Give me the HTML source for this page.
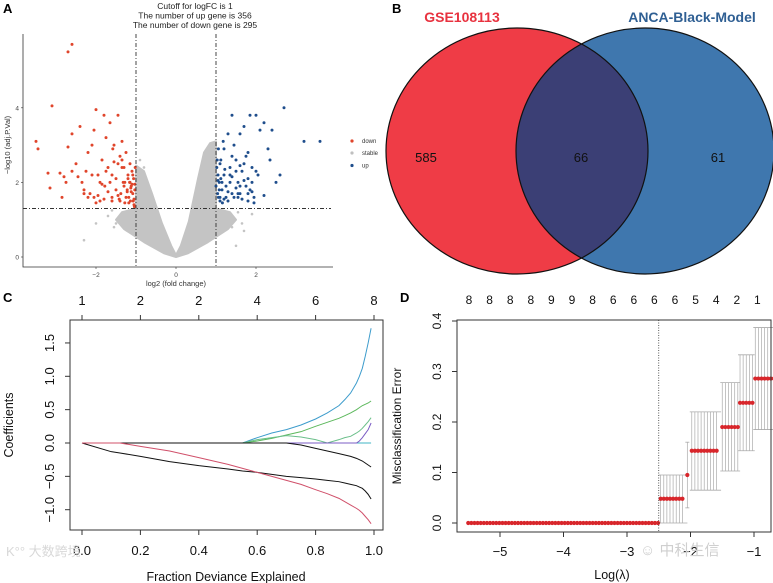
<!DOCTYPE html>
<html><head><meta charset="utf-8"><style>
html,body{margin:0;padding:0;background:#fff;}
svg{display:block;font-family:"Liberation Sans","Noto Sans CJK SC",sans-serif;}
</style></head><body>
<svg id="fig" width="773" height="583" viewBox="0 0 773 583" xmlns="http://www.w3.org/2000/svg">
<rect width="773" height="583" fill="#fff"/>
<text x="3" y="13" font-size="13" font-weight="bold">A</text>
<text x="392" y="13" font-size="13" font-weight="bold">B</text>
<text x="3" y="302" font-size="13" font-weight="bold">C</text>
<text x="400" y="302" font-size="13" font-weight="bold">D</text>

<g font-size="8.5" fill="#222" text-anchor="middle">
<text x="195" y="9">Cutoff for logFC is 1</text>
<text x="195" y="18.5">The number of up gene is 356</text>
<text x="195" y="28">The number of down gene is 295</text>
</g>
<g id="volcano"></g>
<g font-size="6" fill="#333">
<circle cx="352" cy="141" r="1.6" fill="#e0452b"/><text x="362" y="143">down</text>
<circle cx="352" cy="153" r="1.6" fill="#bfbfbf"/><text x="362" y="155">stable</text>
<circle cx="352" cy="165.5" r="1.6" fill="#1f4e8c"/><text x="362" y="167.5">up</text>
</g>
<text x="176" y="286" font-size="7.5" text-anchor="middle" fill="#333">log2 (fold change)</text>
<text transform="translate(10,145) rotate(-90)" font-size="7.5" text-anchor="middle" fill="#333">−log10 (adj.P.Val)</text>

<g>
<ellipse cx="517" cy="151" rx="131" ry="123" fill="#ef3c46"/>
<ellipse cx="645" cy="151" rx="129" ry="123" fill="#3f77ae"/>
<clipPath id="clipRed"><ellipse cx="517" cy="151" rx="131" ry="123"/></clipPath>
<ellipse cx="645" cy="151" rx="129" ry="123" fill="#3b3f75" clip-path="url(#clipRed)"/>
<ellipse cx="517" cy="151" rx="131" ry="123" fill="none" stroke="#111" stroke-width="1.2"/>
<ellipse cx="645" cy="151" rx="129" ry="123" fill="none" stroke="#111" stroke-width="1.2"/>
<text x="462" y="22" font-size="14" font-weight="bold" fill="#e8323f" text-anchor="middle">GSE108113</text>
<text x="692" y="22" font-size="14" font-weight="bold" fill="#2f5f93" text-anchor="middle">ANCA-Black-Model</text>
<text x="426" y="162" font-size="13" text-anchor="middle" fill="#111">585</text>
<text x="581" y="162" font-size="13" text-anchor="middle" fill="#111">66</text>
<text x="718" y="162" font-size="13" text-anchor="middle" fill="#111">61</text>
</g>

<g id="coef"></g>
<text transform="translate(13,425) rotate(-90)" font-size="12.5" text-anchor="middle" fill="#111">Coefficients</text>
<text x="226" y="581" font-size="12.5" text-anchor="middle" fill="#111">Fraction Deviance Explained</text>
<text x="6" y="556" font-size="13" fill="#d8d8d8">K°° 大数跨境</text>

<g id="cv"></g>
<text transform="translate(401,426) rotate(-90)" font-size="12" text-anchor="middle" fill="#111">Misclassification Error</text>
<text x="612" y="579" font-size="12.5" text-anchor="middle" fill="#111">Log(λ)</text>
<text x="640" y="555" font-size="15" fill="#cfcfcf">☺ 中科生信</text>
</svg>
<script>
const NS="http://www.w3.org/2000/svg";
function mk(parent,tag,attrs){const e=document.createElementNS(NS,tag);for(const k in attrs)e.setAttribute(k,attrs[k]);parent.appendChild(e);return e;}

const volXTicks=[-2,0,2];
const volYTicks=[0,2,4];
const fcCutoff=1;
const pCutoff=1.3;
const stableOutline=[[-1,2.45],[-0.8,2.3],[-0.6,1.7],[-0.35,0.9],[-0.12,0.3],[0,0.05],[0.12,0.3],[0.32,0.95],[0.45,1.6],[0.55,2.1],[0.7,2.8],[0.85,3.05],[1,3.1],[1,1.3],[1.35,1.2],[1.5,1.0],[1.3,0.75],[0.8,0.4],[0.3,0.1],[0,0],[-0.3,0.1],[-0.8,0.4],[-1.3,0.75],[-1.5,1.0],[-1.35,1.2],[-1,1.3]];
const stableX=[-1.4,-1.2,-1.5,-0.9,-2.3,-1.3,-1.1,1.2,1.4,1.9,1.5,1.1,-1.6,-2.0,0.9,1.3,-0.8,0.8,-1.0,1.7,-1.7,1.65,-1.55,1.55];
const stableY=[1.1,1.2,0.9,2.6,0.45,0.8,1.0,1.0,0.8,1.15,0.3,1.2,1.25,0.9,2.9,1.1,2.4,2.3,0.6,0.7,1.1,0.9,0.8,1.2];
const downX=[-2.6,-2.7,-3.1,-3.5,-3.45,-3.2,-3.15,-2.85,-2.9,-2.75,-2.7,-2.6,-2.5,-2.4,-2.35,-2.3,-2.25,-2.2,-2.15,-2.1,-2.05,-2.0,-1.95,-1.9,-1.85,-1.8,-1.78,-1.75,-1.7,-1.65,-1.6,-1.58,-1.55,-1.5,-1.45,-1.42,-1.4,-1.38,-1.35,-1.32,-1.3,-1.28,-1.25,-1.22,-1.2,-1.18,-1.16,-1.14,-1.12,-1.1,-1.08,-1.06,-1.05,-1.03,-1.02,-2.2,-2.0,-1.9,-1.7,-1.6,-1.5,-1.45,-1.35,-1.25,-1.15,-1.1,-1.05,-2.45,-2.3,-2.1,-1.8,-1.65,-1.4,-1.3,-1.2,-1.12,-1.08,-1.04,-2.6,-2.8,-1.95,-1.55,-1.75,-1.28,-1.18,-1.13,-1.07,-1.03,-2.05,-1.85,-1.6,-1.45,-1.35,-1.22,-1.15];
const downY=[5.7,5.5,4.05,3.1,2.9,2.25,1.85,1.6,2.25,2.0,2.95,3.3,2.5,3.5,2.0,1.8,2.3,2.8,1.7,3.0,3.4,3.95,2.2,1.5,2.6,3.8,1.9,3.2,2.4,3.6,1.6,2.9,3.0,2.1,3.8,1.55,2.7,1.7,3.1,2.0,2.4,1.45,2.8,1.8,2.2,1.6,2.0,1.5,1.9,2.3,1.7,2.1,1.4,1.8,2.4,1.6,1.45,2.0,1.75,1.5,1.8,2.5,2.6,1.6,2.5,1.95,1.55,2.15,1.7,2.2,1.55,2.0,1.5,1.9,2.1,1.75,2.2,1.35,2.3,2.15,1.65,2.55,2.3,2.0,1.45,1.85,1.5,1.95,1.6,1.95,2.2,1.65,2.4,1.75,2.0];
const upX=[3.2,3.6,2.7,2.4,2.35,2.5,2.6,2.3,2.2,2.1,2.0,1.95,1.9,1.85,1.8,1.75,1.7,1.65,1.6,1.55,1.5,1.45,1.4,1.35,1.3,1.25,1.2,1.18,1.15,1.12,1.1,1.08,1.06,1.04,1.02,1.9,1.8,1.7,1.6,1.5,1.4,1.3,1.2,1.15,1.1,1.05,2.05,1.95,1.85,1.75,1.65,1.55,1.45,1.35,1.25,1.16,1.08,1.03,2.2,2.0,1.8,1.6,1.4,1.22,1.12,1.06,1.0,1.5,1.3,1.7,1.9,1.1,1.2,1.4,1.6,1.8,1.35,1.55,1.05];
const upY=[3.1,3.1,4.0,3.4,2.6,2.0,2.2,2.9,3.6,3.4,3.8,1.45,2.4,3.8,2.8,1.9,3.5,2.3,3.3,1.7,2.6,3.0,3.8,2.0,3.3,1.6,2.2,3.1,1.8,2.6,1.5,2.0,2.9,1.7,2.4,1.75,2.1,2.5,1.9,2.3,2.7,1.5,2.9,2.0,1.6,2.2,2.2,1.6,1.8,2.7,1.55,2.0,1.6,2.4,1.9,1.45,1.8,2.6,1.65,2.3,1.5,2.45,1.7,2.35,2.1,1.6,1.9,1.85,1.75,2.05,2.0,2.5,1.55,2.15,1.7,1.7,2.2,1.6,2.05];

(function(){
  const g=document.getElementById('volcano');
  const X=v=>176+40*v, Y=v=>257-37.3*v;
  const poly=mk(g,'polygon',{points:stableOutline.map(p=>X(p[0])+','+Y(p[1])).join(' '),fill:'#c4c4c4',stroke:'#c4c4c4','stroke-width':2,'stroke-linejoin':'round'});
  
  
  stableX.forEach((x,i)=>{const c=mk(g,'circle',{cx:X(x),cy:Y(stableY[i]),r:1.3,fill:'#c4c4c4'});
    
    });
  downX.forEach((x,i)=>{const c=mk(g,'circle',{cx:X(x),cy:Y(downY[i]),r:1.5,fill:'#e0452b'});
    
    });
  upX.forEach((x,i)=>{const c=mk(g,'circle',{cx:X(x),cy:Y(upY[i]),r:1.5,fill:'#1f4e8c'});
    
    });
  [-fcCutoff,fcCutoff].forEach(v=>{const l=mk(g,'line',{x1:X(v),x2:X(v),y1:34,y2:267,stroke:'#333','stroke-width':0.9,'stroke-dasharray':'4 2 1 2'});
    
    });
  const h=mk(g,'line',{x1:23,x2:331,y1:Y(pCutoff),y2:Y(pCutoff),stroke:'#333','stroke-width':0.9,'stroke-dasharray':'4 2 1 2'});
  
  
  const ax=mk(g,'path',{d:'M23,34 V267 H333',fill:'none',stroke:'#333','stroke-width':0.8});
  
  
  volXTicks.forEach(v=>{mk(g,'line',{x1:X(v),x2:X(v),y1:267,y2:269,stroke:'#333','stroke-width':0.6});
    const t=mk(g,'text',{x:X(v),y:277,'font-size':6.5,'text-anchor':'middle',fill:'#444'});t.textContent=v<0?'−'+(-v):v;
    
    });
  volYTicks.forEach(v=>{mk(g,'line',{x1:21,x2:23,y1:Y(v),y2:Y(v),stroke:'#333','stroke-width':0.6});
    const t=mk(g,'text',{x:19,y:Y(v)+2.5,'font-size':6.5,'text-anchor':'end',fill:'#444'});t.textContent=v;
    
    });
})();

const coefFrac=[0,0.1,0.13,0.2,0.3,0.4,0.5,0.55,0.6,0.65,0.7,0.75,0.8,0.84,0.88,0.9,0.92,0.94,0.95,0.96,0.97,0.98,0.99];
const coefBlue=[0,0,0,0,0,0,0,0,0.08,0.15,0.2,0.27,0.36,0.45,0.56,0.65,0.75,0.9,1.0,1.12,1.3,1.5,1.72];
const coefGreen=[0,0,0,0,0,0,0,0,0.03,0.07,0.12,0.17,0.25,0.31,0.37,0.41,0.45,0.5,0.53,0.56,0.58,0.6,0.63];
const coefTeal=[0,0,0,0,0,0,0,0,0.05,0.08,0.11,0.09,0.05,0.0,0.05,0.08,0.1,0.15,0.18,0.22,0.27,0.32,0.38];
const coefPurple=[0,0,0,0,0,0,0,0,0,0,0,0,0,0,0,0,0,0,0.03,0.08,0.14,0.2,0.3];
const coefBlack1=[0,0,0,0,0,0,0,0,0,0,0,-0.03,-0.08,-0.12,-0.16,-0.18,-0.2,-0.23,-0.25,-0.27,-0.3,-0.33,-0.36];
const coefBlack2=[0,-0.13,-0.15,-0.2,-0.28,-0.34,-0.39,-0.42,-0.44,-0.47,-0.5,-0.52,-0.54,-0.56,-0.58,-0.6,-0.62,-0.64,-0.66,-0.68,-0.72,-0.77,-0.84];
const coefRed=[0,0,0,-0.05,-0.12,-0.22,-0.32,-0.38,-0.44,-0.5,-0.56,-0.62,-0.7,-0.76,-0.83,-0.88,-0.93,-0.98,-1.01,-1.05,-1.1,-1.15,-1.21];
const coefXTicks=[0,0.2,0.4,0.6,0.8,1.0];
const coefYTicks=[-1.0,-0.5,0.0,0.5,1.0,1.5];
const coefTopLabels=['1','2','2','4','6','8'];

(function(){
  const g=document.getElementById('coef');
  const X=v=>82+292*v, Y=v=>443-66.7*v;
  const box=mk(g,'rect',{x:70,y:320,width:313,height:210,fill:'none',stroke:'#333','stroke-width':1});
  
  
  const base=mk(g,'line',{x1:X(0),x2:X(0.99),y1:Y(0),y2:Y(0),stroke:'#41b6c4','stroke-width':1});
  
  
  const series=[[coefBlue,'#3d9ccc','coef-path-blue'],[coefGreen,'#5cb85c','coef-path-green'],[coefTeal,'#6bbf8a','coef-path-teal'],[coefPurple,'#7b5cc4','coef-path-purple'],[coefBlack1,'#111','coef-path-black-1'],[coefBlack2,'#111','coef-path-black-2'],[coefRed,'#d0506a','coef-path-red']];
  series.forEach(s=>{const p=mk(g,'polyline',{points:coefFrac.map((f,i)=>X(f)+','+Y(s[0][i])).join(' '),fill:'none',stroke:s[1],'stroke-width':1});
    
    });
  coefXTicks.forEach(v=>{mk(g,'line',{x1:X(v),x2:X(v),y1:530,y2:535,stroke:'#333'});
    const t=mk(g,'text',{x:X(v),y:555,'font-size':13,'text-anchor':'middle',fill:'#111'});t.textContent=v.toFixed(1);
    
    });
  coefTopLabels.forEach((s,i)=>{const v=coefXTicks[i];mk(g,'line',{x1:X(v),x2:X(v),y1:315,y2:320,stroke:'#333'});
    const t=mk(g,'text',{x:X(v),y:305,'font-size':13,'text-anchor':'middle',fill:'#111'});t.textContent=s;
    
    });
  coefYTicks.forEach(v=>{mk(g,'line',{x1:65,x2:70,y1:Y(v),y2:Y(v),stroke:'#333'});
    const t=mk(g,'text',{transform:`translate(54,${Y(v)}) rotate(-90)`,'font-size':13,'text-anchor':'middle',fill:'#111'});t.textContent=v.toFixed(1).replace('-','−');
    
    });
})();

const segStart=[-5.5,-2.47,-2.05,-1.98,-1.5,-1.22,-0.98];
const segEnd=[-2.5,-2.08,-2.05,-1.55,-1.25,-1.02,-0.67];
const segMean=[0,0.048,0.095,0.143,0.19,0.238,0.286];
const segLo=[0,0,0.03,0.065,0.103,0.143,0.185];
const segHi=[0,0.095,0.16,0.22,0.278,0.333,0.387];
const cvXTicks=[-5,-4,-3,-2,-1];
const cvYTicks=[0,0.1,0.2,0.3,0.4];
const cvTopLabels=['8','8','8','8','9','9','8','6','6','6','6','5','4','2','1'];
const lambdaMin=-2.5;

(function(){
  const g=document.getElementById('cv');
  const X=v=>500+63.5*(v+5), Y=v=>523-505*v;
  const step=0.049;
  segStart.forEach((s,k)=>{
    for(let v=s;v<=segEnd[k]+1e-6;v+=step){
      if(segHi[k]>0){
        const l=mk(g,'line',{x1:X(v),x2:X(v),y1:Y(segLo[k]),y2:Y(segHi[k]),stroke:'#aaa','stroke-width':0.7});
        
        
      }
    }
    if(segHi[k]>0){
      mk(g,'line',{x1:X(s)-2,x2:X(segEnd[k])+2,y1:Y(segLo[k]),y2:Y(segLo[k]),stroke:'#aaa','stroke-width':0.8});
      mk(g,'line',{x1:X(s)-2,x2:X(segEnd[k])+2,y1:Y(segHi[k]),y2:Y(segHi[k]),stroke:'#aaa','stroke-width':0.8});
    }
  });
  segStart.forEach((s,k)=>{
    for(let v=s;v<=segEnd[k]+1e-6;v+=step){
      const c=mk(g,'circle',{cx:X(v),cy:Y(segMean[k]),r:2.1,fill:'#d8262b'});
      
      
    }
  });
  const vl=mk(g,'line',{x1:X(lambdaMin),x2:X(lambdaMin),y1:320,y2:532,stroke:'#333','stroke-width':0.8,'stroke-dasharray':'1 1.5'});
  
  
  const box=mk(g,'rect',{x:457,y:320,width:314,height:212,fill:'none',stroke:'#333','stroke-width':1});
  
  
  cvXTicks.forEach(v=>{mk(g,'line',{x1:X(v),x2:X(v),y1:532,y2:537,stroke:'#333'});
    const t=mk(g,'text',{x:X(v),y:556,'font-size':13,'text-anchor':'middle',fill:'#111'});t.textContent='−'+(-v);
    
    });
  cvYTicks.forEach(v=>{mk(g,'line',{x1:452,x2:457,y1:Y(v),y2:Y(v),stroke:'#333'});
    const t=mk(g,'text',{transform:`translate(441,${Y(v)}) rotate(-90)`,'font-size':12,'text-anchor':'middle',fill:'#111'});t.textContent=v.toFixed(1);
    
    });
  cvTopLabels.forEach((s,i)=>{const t=mk(g,'text',{x:469+i*20.6,y:304,'font-size':12,'text-anchor':'middle',fill:'#111'});t.textContent=s;
    
    });
})();
</script>
</body></html>
